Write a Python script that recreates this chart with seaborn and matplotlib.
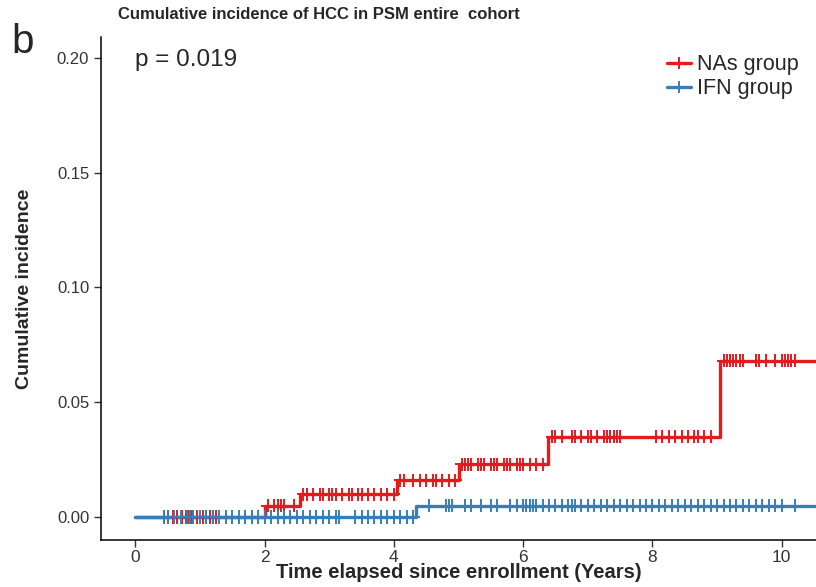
import numpy as np
import pandas as pd
import matplotlib
matplotlib.use("Agg")
import matplotlib.pyplot as plt
import seaborn as sns
from matplotlib.lines import Line2D

# Step curves (time in years, cumulative incidence)
nas_times = [0.0, 2.0, 2.55, 4.05, 5.0, 6.38, 9.04, 10.6]
nas_inc = [0.0, 0.005, 0.010, 0.016, 0.023, 0.035, 0.068, 0.068]
ifn_times = [0.0, 4.35, 10.6]
ifn_inc = [0.0, 0.005, 0.005]

# Censor times
nas_censor = [0.45, 0.5, 0.58, 0.65, 0.72, 0.78, 0.82, 0.86, 0.9, 0.95, 1.0, 1.05, 1.1, 1.15, 1.2, 1.25,
              2.05, 2.15, 2.2, 2.25, 2.3, 2.45,
              2.6, 2.65, 2.75, 2.85, 2.9, 3.0, 3.05, 3.1, 3.2, 3.3, 3.35, 3.45, 3.5, 3.6, 3.7, 3.8, 3.9, 4.0,
              4.1, 4.15, 4.3, 4.4, 4.5, 4.6, 4.65, 4.75, 4.85, 4.95,
              5.05, 5.1, 5.15, 5.2, 5.3, 5.35, 5.4, 5.5, 5.55, 5.6, 5.7, 5.75, 5.8, 5.9, 5.95, 6.0, 6.1, 6.2, 6.3,
              6.45, 6.5, 6.6, 6.75, 6.8, 6.9, 7.0, 7.05, 7.15, 7.25, 7.3, 7.35, 7.4, 7.45, 7.5,
              8.05, 8.15, 8.25, 8.35, 8.45, 8.55, 8.65, 8.7, 8.8, 8.9,
              9.1, 9.15, 9.2, 9.25, 9.3, 9.35, 9.4, 9.6, 9.65, 9.75, 9.9, 10.0, 10.05, 10.1, 10.15, 10.2]
ifn_censor = [0.45, 0.5, 0.6, 0.7, 0.8, 0.85, 0.9, 1.0, 1.1, 1.2, 1.3, 1.4, 1.5, 1.6, 1.7, 1.8, 1.9, 2.0,
              2.1, 2.2, 2.3, 2.4, 2.5, 2.6, 2.7, 2.8, 2.9, 3.0, 3.1, 3.15, 3.4, 3.5, 3.6, 3.7, 3.8, 3.9,
              4.0, 4.1, 4.2, 4.3,
              4.55, 4.8, 4.85, 4.9, 5.1, 5.2, 5.35, 5.5, 5.6, 5.8, 5.9, 6.0, 6.05, 6.1, 6.15, 6.2, 6.3,
              6.4, 6.5, 6.6, 6.7, 6.75, 6.8, 6.9, 7.0, 7.1, 7.2, 7.3, 7.4, 7.5, 7.6, 7.7, 7.8, 7.9, 8.0,
              8.1, 8.2, 8.3, 8.4, 8.5, 8.6, 8.7, 8.8, 8.9, 9.0, 9.1, 9.2, 9.3, 9.4, 9.5, 9.6, 9.7, 9.8,
              9.9, 10.0, 10.2]

groups = ["NAs group", "IFN group"]
colores = {"NAs group": "#E41A1C", "IFN group": "#377EB8"}

curvas = pd.concat([
    pd.DataFrame({"tempo": nas_times, "inc": nas_inc, "grupo": "NAs group"}),
    pd.DataFrame({"tempo": ifn_times, "inc": ifn_inc, "grupo": "IFN group"}),
])


def nivel(tempos, incs, t):
    idx = np.searchsorted(tempos, t, side="right") - 1
    return np.array(incs)[idx]


censuras = pd.concat([
    pd.DataFrame({"tempo": nas_censor, "inc": nivel(nas_times, nas_inc, nas_censor), "grupo": "NAs group"}),
    pd.DataFrame({"tempo": ifn_censor, "inc": nivel(ifn_times, ifn_inc, ifn_censor), "grupo": "IFN group"}),
])

sns.set_theme(style="ticks")
plt.rcParams["font.family"] = ["Liberation Sans", "DejaVu Sans"]

fig = plt.figure(figsize=(8.16, 5.87), dpi=100)
ax = fig.add_axes([0.1238, 0.080, 0.8762, 0.857])

for g in groups:
    d = curvas[curvas["grupo"] == g]
    ax.step(d["tempo"], d["inc"], where="post", color=colores[g], lw=2.4, zorder=2)

sns.scatterplot(data=censuras, x="tempo", y="inc", hue="grupo", palette=colores, marker="+",
                s=90, linewidth=1.4, legend=False, ax=ax, zorder=3)

# legenda com linha + marcador
handles = [Line2D([], [], color=colores[g], lw=2.4, marker="+", markersize=8, markeredgewidth=1.4) for g in groups]
ax.legend(handles, groups, loc="upper right", bbox_to_anchor=(1.0, 1.0), frameon=False,
          fontsize=15.5, handlelength=1.1, handletextpad=0.3, labelspacing=0.15, borderaxespad=0.4)

ax.set_xlim(-0.53, 10.53)
ax.set_ylim(-0.01, 0.209)
ax.set_xticks([0, 2, 4, 6, 8, 10])
ax.set_yticks([0.0, 0.05, 0.10, 0.15, 0.20])
ax.set_yticklabels(["0.00", "0.05", "0.10", "0.15", "0.20"])
ax.tick_params(axis="x", labelsize=12.5, pad=2)
ax.tick_params(axis="y", labelsize=12)
ax.tick_params(colors="#333333", length=5, width=1, labelcolor="#333333")
for s in ["top", "right"]:
    ax.spines[s].set_visible(False)
for s in ["left", "bottom"]:
    ax.spines[s].set_linewidth(1.1)
    ax.spines[s].set_color("black")

ax.set_xlabel("Time elapsed since enrollment (Years)", fontsize=14.5, fontweight="bold", labelpad=-1)
ax.set_ylabel("Cumulative incidence", fontsize=14, fontweight="bold", labelpad=17)
ax.text(0.0, 0.199, "p = 0.019", fontsize=17.5, ha="left", va="center")

fig.text(0.145, 0.975, "Cumulative incidence of HCC in PSM entire  cohort", fontsize=12, fontweight="bold",
         ha="left", va="center")
fig.text(0.014, 0.928, "b", fontsize=29, ha="left", va="center")

fig.savefig("out.png", dpi=100)
